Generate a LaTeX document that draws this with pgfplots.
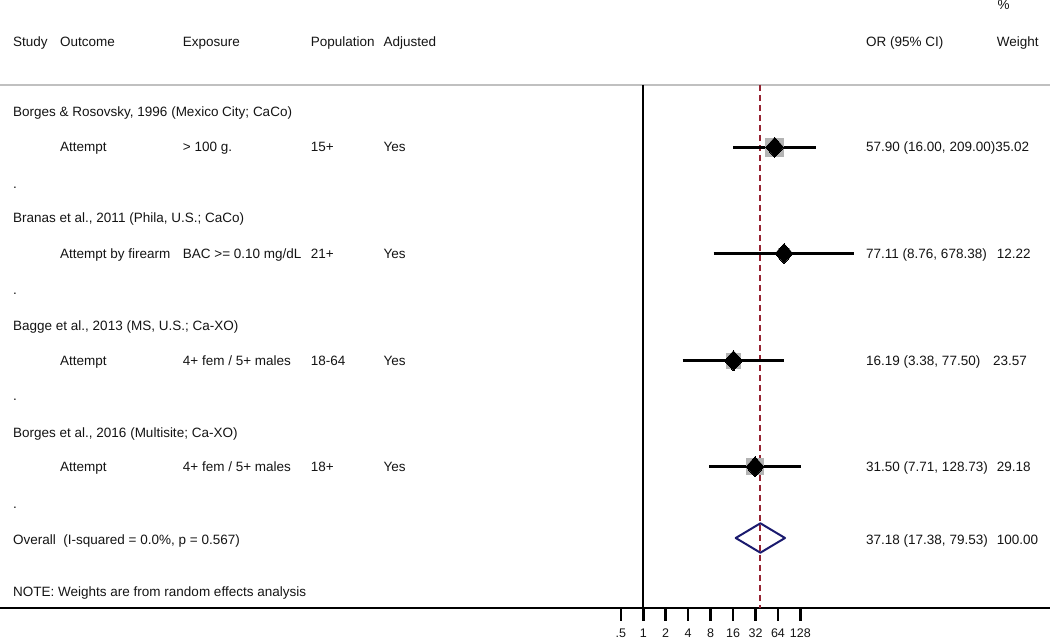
\documentclass[border=0pt]{standalone}
\usepackage{fontspec}
\setmainfont{Liberation Sans}
\usepackage{pgfplots}
\pgfplotsset{compat=1.18}
\definecolor{stmaroon}{RGB}{150,35,50}
\definecolor{stnavy}{RGB}{26,26,110}
\definecolor{boxgray}{RGB}{180,180,180}
\definecolor{linegray}{RGB}{192,192,192}
\definecolor{txt}{RGB}{20,20,20}
\newcommand{\T}[3]{\node[anchor=base west,inner sep=0pt,text=txt] at (#1pt,#2pt) {#3};}
\begin{document}
\begin{tikzpicture}[font=\fontsize{13.5}{16}\selectfont]
\useasboundingbox (0,0) rectangle (1050pt,640pt);
\draw[linegray, line width=2.5pt] (0,555pt) -- (1050pt,555pt);
\begin{axis}[
 at={(0,0)}, anchor=south west,
 scale only axis, width=1050pt, height=640pt,
 xmode=log, log basis x=2,
 xmin=2.366e-9, xmax=284200,
 ymin=-32, ymax=608,
 axis x line=middle, axis y line=none,
 x axis line style={-, line width=2.5pt},
 xtick={0.5,1,2,4,8,16,32,64,128},
 xticklabels={.5,1,2,4,8,16,32,64,128},
 minor xtick={},
 ytick=\empty,
 tick align=outside,
 major tick length=13pt,
 tick style={black, line width=2.5pt},
 xticklabel style={font=\fontsize{12.5}{14}\selectfont, text=txt, yshift=-4pt},
 /pgf/number format/assume math mode=true,
 clip=false,
]
% reference lines
\addplot[black, line width=1.8pt] coordinates {(1,523) (1,0)};
\addplot[stmaroon, line width=2pt, dash pattern=on 6pt off 4pt] coordinates {(37.18,523) (37.18,0)};
% weight boxes
\addplot[only marks, color=boxgray, mark=square*, mark size=9pt, mark options={solid, fill=boxgray, draw=boxgray, line width=0pt}] coordinates {(57.90,460.7)};
\addplot[only marks, color=boxgray, mark=square*, mark size=5.3pt, mark options={solid, fill=boxgray, draw=boxgray, line width=0pt}] coordinates {(77.11,354.5)};
\addplot[only marks, color=boxgray, mark=square*, mark size=7.4pt, mark options={solid, fill=boxgray, draw=boxgray, line width=0pt}] coordinates {(16.19,247.3)};
\addplot[only marks, color=boxgray, mark=square*, mark size=8.2pt, mark options={solid, fill=boxgray, draw=boxgray, line width=0pt}] coordinates {(31.50,141.3)};
% confidence intervals
\addplot[black, line width=3pt] coordinates {(16.00,460.7) (209.00,460.7)};
\addplot[black, line width=3pt] coordinates {(8.76,354.5) (678.38,354.5)};
\addplot[black, line width=3pt] coordinates {(3.38,247.3) (77.50,247.3)};
\addplot[black, line width=3pt] coordinates {(7.71,141.3) (128.73,141.3)};
% point estimates
\addplot[only marks, color=black, mark=diamond*, mark size=10pt, mark options={solid, fill=black, draw=black, line width=0pt, xscale=1.2}] coordinates {(57.90,460.7) (77.11,354.5) (16.19,247.3) (31.50,141.3)};
% overall
\addplot[stnavy, line width=2pt, line join=round, line cap=round] coordinates {(17.38,70) (37.18,84.7) (79.53,70) (37.18,55.3) (17.38,70)};
\end{axis}
% header
\T{13}{593}{Study}
\T{60}{593}{Outcome}
\T{182.7}{593}{Exposure}
\T{310.7}{593}{Population}
\T{383.3}{593}{Adjusted}
\T{866}{593}{OR (95\% CI)}
\T{996.7}{593}{Weight}
\T{997.3}{630}{\%}
% study 1
\T{13}{523}{Borges \& Rosovsky, 1996 (Mexico City; CaCo)}
\T{60}{488}{Attempt}
\T{182.7}{488}{> 100 g.}
\T{310.7}{488}{15+}
\T{383.3}{488}{Yes}
\T{866}{488}{57.90 (16.00, 209.00)35.02}
\T{13}{451}{.}
% study 2
\T{13}{417}{Branas et al., 2011 (Phila, U.S.; CaCo)}
\T{60}{381.5}{Attempt by firearm}
\T{182.7}{381.5}{BAC >= 0.10 mg/dL}
\T{310.7}{381.5}{21+}
\T{383.3}{381.5}{Yes}
\T{866}{381.5}{77.11 (8.76, 678.38)}
\T{996.7}{381.5}{12.22}
\T{13}{345}{.}
% study 3
\T{13}{309}{Bagge et al., 2013 (MS, U.S.; Ca-XO)}
\T{60}{274}{Attempt}
\T{182.7}{274}{4+ fem / 5+ males}
\T{310.7}{274}{18-64}
\T{383.3}{274}{Yes}
\T{866}{274}{16.19 (3.38, 77.50)}
\T{993}{274}{23.57}
\T{13}{239}{.}
% study 4
\T{13}{202.5}{Borges et al., 2016 (Multisite; Ca-XO)}
\T{60}{168}{Attempt}
\T{182.7}{168}{4+ fem / 5+ males}
\T{310.7}{168}{18+}
\T{383.3}{168}{Yes}
\T{866}{168}{31.50 (7.71, 128.73)}
\T{996.7}{168}{29.18}
\T{13}{131}{.}
% overall
\T{13}{95}{Overall\ \ (I-squared = 0.0\%, p = 0.567)}
\T{866}{95}{37.18 (17.38, 79.53)}
\T{996.7}{95}{100.00}
\T{13}{43}{NOTE: Weights are from random effects analysis}
\end{tikzpicture}
\end{document}
